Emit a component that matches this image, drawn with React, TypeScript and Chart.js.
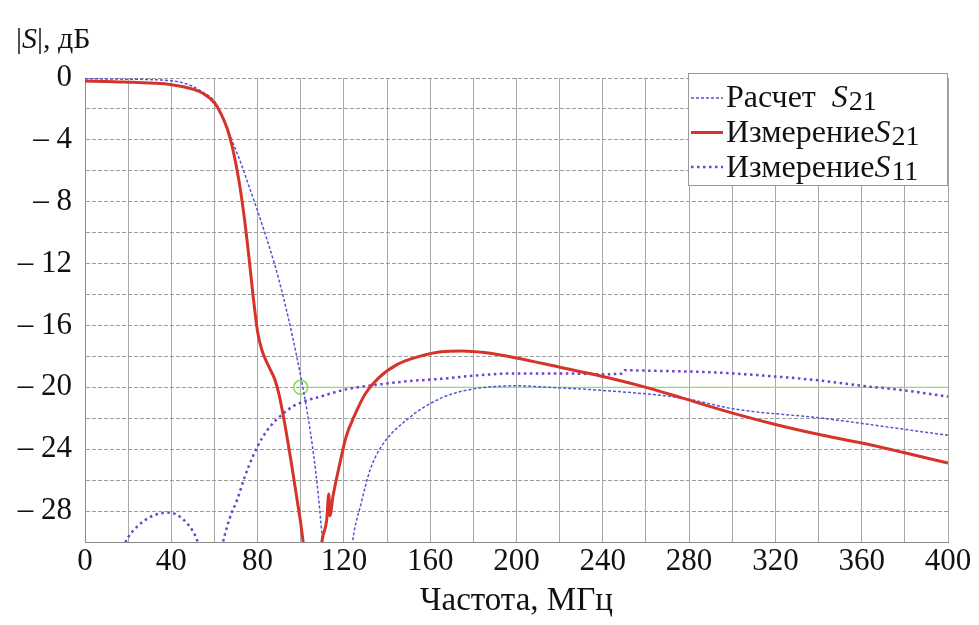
import React, { useEffect, useRef } from "react";
import { Chart, registerables } from "chart.js";

Chart.register(...registerables);

// ---------- data ----------
const measS21Freq = [0, 10, 20, 30, 40, 50, 55, 60, 63, 66, 68, 70, 72, 74, 76, 78, 80, 82, 85, 88, 90, 92, 94, 96, 98, 100, 102, 105,
  109, 110, 112, 113, 113.5, 115, 118, 121, 125, 130, 136, 145, 155, 165, 175, 185, 200, 220, 240, 260, 277, 301, 320, 342, 360, 379, 400];
const measS21Db = [-0.2, -0.22, -0.27, -0.33, -0.43, -0.72, -1.02, -1.6, -2.3, -3.3, -4.3, -5.6, -7.2, -9.2, -11.6, -14.2, -16.4, -17.6, -18.6, -19.5, -20.5, -21.9, -23.5, -25.2, -27.0, -28.8, -31, null,
  -31, -29.8, -28.6, -26.9, -28.3, -27.0, -25.0, -23.2, -21.8, -20.4, -19.4, -18.5, -18.0, -17.7, -17.65, -17.75, -18.1, -18.7, -19.3, -20.0, -20.7, -21.7, -22.4, -23.1, -23.6, -24.2, -24.9];

const calcS21Freq = [0, 10, 20, 30, 40, 45, 50, 55, 60, 64, 68, 72, 76, 80, 84, 88, 92, 96, 100, 103, 106, 108, 110, 111, 115,
  123, 124, 128, 132, 137, 150, 165, 178, 190, 200, 215, 240, 277, 301, 342, 379, 400];
const calcS21Db = [-0.05, -0.06, -0.08, -0.1, -0.18, -0.3, -0.55, -0.95, -1.5, -2.6, -4.0, -5.4, -7.0, -8.6, -10.3, -12.1, -14.2, -16.6, -19.3, -21.6, -24.4, -26.8, -29.8, -31.5, null,
  -31.5, -30, -27.5, -25.4, -23.9, -22.0, -20.7, -20.15, -19.95, -19.9, -20.0, -20.2, -20.7, -21.4, -22.0, -22.7, -23.1];

const measS11Freq = [15, 17, 20, 25, 30, 35, 38, 42, 46, 50, 52, 54, 58,
  62, 64, 67, 70.7, 74, 78, 82, 86, 91, 96.7, 103, 109, 115, 122, 137, 150, 165, 184, 200, 220, 240, 249, 250, 270, 286, 300, 320, 340, 360, 380, 400];
const measS11Db = [-31.5, -30.6, -29.7, -28.9, -28.4, -28.15, -28.1, -28.2, -28.6, -29.3, -29.9, -30.8, null,
  -31.5, -30, -28.5, -27.2, -25.8, -24.4, -23.3, -22.5, -21.8, -21.2, -20.85, -20.6, -20.35, -20.1, -19.8, -19.6, -19.45, -19.2, -19.1, -19.1, -19.15, -19.1, -18.9, -18.95, -19.0, -19.1, -19.3, -19.55, -19.9, -20.2, -20.6];

const refFreq = [100, 400];
const refDb = [-20, -20];

const xTicks = [0, 40, 80, 120, 160, 200, 240, 280, 320, 360, 400];
const yTicks = [0, -4, -8, -12, -16, -20, -24, -28];

const legendRows = [
  { name: "Расчет  ", sym: "S", sub: "21", color: "#5058d0", width: 1.5, dash: [3, 2] },
  { name: "Измерение", sym: "S", sub: "21", color: "#d6342a", width: 3, dash: [] },
  { name: "Измерение", sym: "S", sub: "11", color: "#7040d0", width: 2.5, dash: [2.5, 3.5] },
];

const SERIF = '"Liberation Serif", "Times New Roman", serif';

const toPoints = (xs: number[], ys: (number | null)[]) => xs.map((x, i) => ({ x, y: ys[i] }));

const overlayPlugin = {
  id: "overlay",
  afterDatasetsDraw(chart: any) {
    const ctx = chart.ctx as CanvasRenderingContext2D;
    const area = chart.chartArea;
    ctx.save();
    // y axis title "|S|, дБ"
    ctx.fillStyle = "#111";
    ctx.textBaseline = "alphabetic";
    let tx = 16;
    const ty = 48;
    ctx.font = `30px ${SERIF}`;
    ctx.fillText("|", tx, ty);
    tx += ctx.measureText("|").width;
    ctx.font = `italic 30px ${SERIF}`;
    ctx.fillText("S", tx, ty);
    tx += ctx.measureText("S").width;
    ctx.font = `30px ${SERIF}`;
    ctx.fillText("|, дБ", tx, ty);

    // legend box
    const bx = 688, by = 73, bw = area.right - 688, bh = 113;
    ctx.fillStyle = "#ffffff";
    ctx.fillRect(bx, by, bw, bh);
    ctx.strokeStyle = "#9a9a9a";
    ctx.lineWidth = 1;
    ctx.strokeRect(bx + 0.5, by + 0.5, bw - 1, bh - 1);
    ctx.beginPath();
    ctx.rect(bx, by, bw, bh);
    ctx.clip();
    legendRows.forEach((r, i) => {
      const ly = 98 + i * 34.5;
      ctx.strokeStyle = r.color;
      ctx.lineWidth = r.width;
      ctx.setLineDash(r.dash);
      ctx.beginPath();
      ctx.moveTo(691, ly);
      ctx.lineTo(723, ly);
      ctx.stroke();
      ctx.setLineDash([]);
      const base = 107 + i * 35;
      let x = 726;
      ctx.fillStyle = "#111";
      ctx.font = `32px ${SERIF}`;
      ctx.fillText(r.name, x, base);
      x += ctx.measureText(r.name).width;
      ctx.font = `italic 32px ${SERIF}`;
      ctx.fillText(r.sym, x, base);
      x += ctx.measureText(r.sym).width + 1;
      ctx.font = `28px ${SERIF}`;
      ctx.fillText(r.sub, x, base + 3);
    });
    ctx.restore();
  },
};

export default function App() {
  const canvasRef = useRef<HTMLCanvasElement | null>(null);

  useEffect(() => {
    if (!canvasRef.current) return;
    const chart = new Chart(canvasRef.current, {
      type: "line",
      data: {
        datasets: [
          {
            label: "Измерение S21",
            data: toPoints(measS21Freq, measS21Db),
            borderColor: "#d6342a",
            borderWidth: 3,
            pointRadius: 0,
            cubicInterpolationMode: "monotone",
          },
          {
            label: "Измерение S11",
            data: toPoints(measS11Freq, measS11Db),
            borderColor: "#7040d0",
            borderWidth: 2.5,
            borderDash: [2.5, 3.5],
            pointRadius: 0,
            cubicInterpolationMode: "monotone",
          },
          {
            label: "Расчет S21",
            data: toPoints(calcS21Freq, calcS21Db),
            borderColor: "#5058d0",
            borderWidth: 1.5,
            borderDash: [3, 2],
            pointRadius: 0,
            cubicInterpolationMode: "monotone",
          },
          {
            label: "ref",
            data: toPoints(refFreq, refDb),
            borderColor: "#92dc70",
            borderWidth: 1.3,
            pointRadius: [7, 0],
            pointBorderColor: "#7fd860",
            pointBorderWidth: 1.5,
            pointBackgroundColor: "rgba(0,0,0,0)",
          },
        ] as any,
      },
      options: {
        animation: false,
        responsive: true,
        maintainAspectRatio: false,
        layout: { padding: { top: 78, right: 31, left: 0, bottom: 0 } },
        plugins: { legend: { display: false }, tooltip: { enabled: false }, title: { display: false } },
        scales: {
          x: {
            type: "linear",
            min: 0,
            max: 400,
            afterFit: (s: any) => { s.height = 83; },
            ticks: {
              stepSize: 20,
              padding: 1,
              color: "#111",
              font: { family: SERIF, size: 31 },
              maxRotation: 0,
              autoSkip: false,
              callback: (v: any) => (xTicks.includes(Number(v)) ? String(v) : ""),
            },
            grid: { color: "#a8a8a8", lineWidth: 1, drawTicks: false },
            border: { color: "#8a8a8a", width: 1 },
            title: {
              display: true,
              text: "Частота, МГц",
              color: "#111",
              font: { family: SERIF, size: 33 },
              padding: { top: 0, bottom: 4 },
            },
          },
          y: {
            type: "linear",
            min: -30,
            max: 0,
            afterFit: (s: any) => { s.width = 85; },
            ticks: {
              stepSize: 2,
              padding: 13,
              color: "#111",
              font: { family: SERIF, size: 31 },
              autoSkip: false,
              callback: (v: any) => {
                const n = Number(v);
                if (!yTicks.includes(n)) return "";
                return n === 0 ? "0" : "– " + String(-n);
              },
            },
            grid: { color: "#9c9c9c", lineWidth: 1, drawTicks: false },
            border: { color: "#8a8a8a", width: 1, dash: [4, 2] },
          },
        },
      } as any,
      plugins: [overlayPlugin],
    });
    return () => chart.destroy();
  }, []);

  return (
    <div style={{ position: "fixed", left: 0, top: 0, width: 979, height: 625, background: "#fff" }}>
      <canvas ref={canvasRef} />
    </div>
  );
}
